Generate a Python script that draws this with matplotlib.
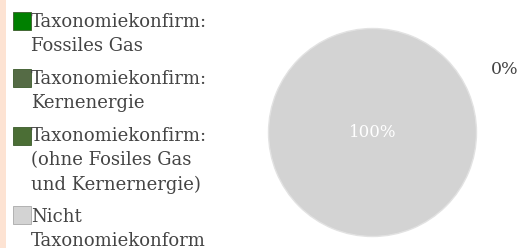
import matplotlib.pyplot as plt
from matplotlib.patches import Rectangle

## Data
labels = ["Taxonomiekonfirm:\nFossiles Gas",
          "Taxonomiekonfirm:\nKernenergie",
          "Taxonomiekonfirm:\n(ohne Fosiles Gas\nund Kernernergie)",
          "Nicht\nTaxonomiekonform"]
values = [0, 0, 0, 100]
colors = ["#008000", "#556b45", "#4b6e35", "#d3d3d3"]

W, H = 528, 248
fig = plt.figure(figsize=(W/100, H/100), dpi=100)
fig.patch.set_facecolor("white")

# peach stripe on the left edge
fig.patches.append(Rectangle((0, 0), 6/W, 1, transform=fig.transFigure,
                             facecolor="#fde3d3", edgecolor="none"))

# pie
ax = fig.add_axes([(372.5-104)/W, 1-(132.5+104)/H, 208/W, 208/H])
total = sum(values)
ax.pie(values, colors=colors, startangle=90, counterclock=False,
       wedgeprops=dict(edgecolor="#e2e2e2", linewidth=1))
ax.set_xlim(-1, 1)
ax.set_ylim(-1, 1)
ax.set_aspect("equal")
ax.axis("off")

big = values.index(max(values))
ax.text(0, 0, f"{values[big]/total*100:.0f}%", ha="center", va="center",
        color="white", fontsize=12, family="DejaVu Serif")
zero = [v for v in values if v == 0]
if zero:
    fig.text(505/W, 1-70/H, f"{zero[0]:.0f}%", ha="center", va="center",
             color="#444444", fontsize=12.5, family="DejaVu Serif")

# legend drawn by hand so squares sit on the first text line
sq_tops = [12, 69, 127, 206]
txt_tops = [13, 70, 127, 208]
for lab, col, st, tt in zip(labels, colors, sq_tops, txt_tops):
    edge = "#a9a9a9" if col == "#d3d3d3" else "#3a5a2a"
    fig.patches.append(Rectangle((13/W, 1-(st+18)/H), 18/W, 18/H,
                                 transform=fig.transFigure, facecolor=col,
                                 edgecolor=edge, linewidth=0.6))
    fig.text(31/W, 1-tt/H, lab, ha="left", va="top", color="#444444",
             fontsize=13, family="DejaVu Serif", linespacing=1.45)

plt.savefig("out.png", dpi=100)
